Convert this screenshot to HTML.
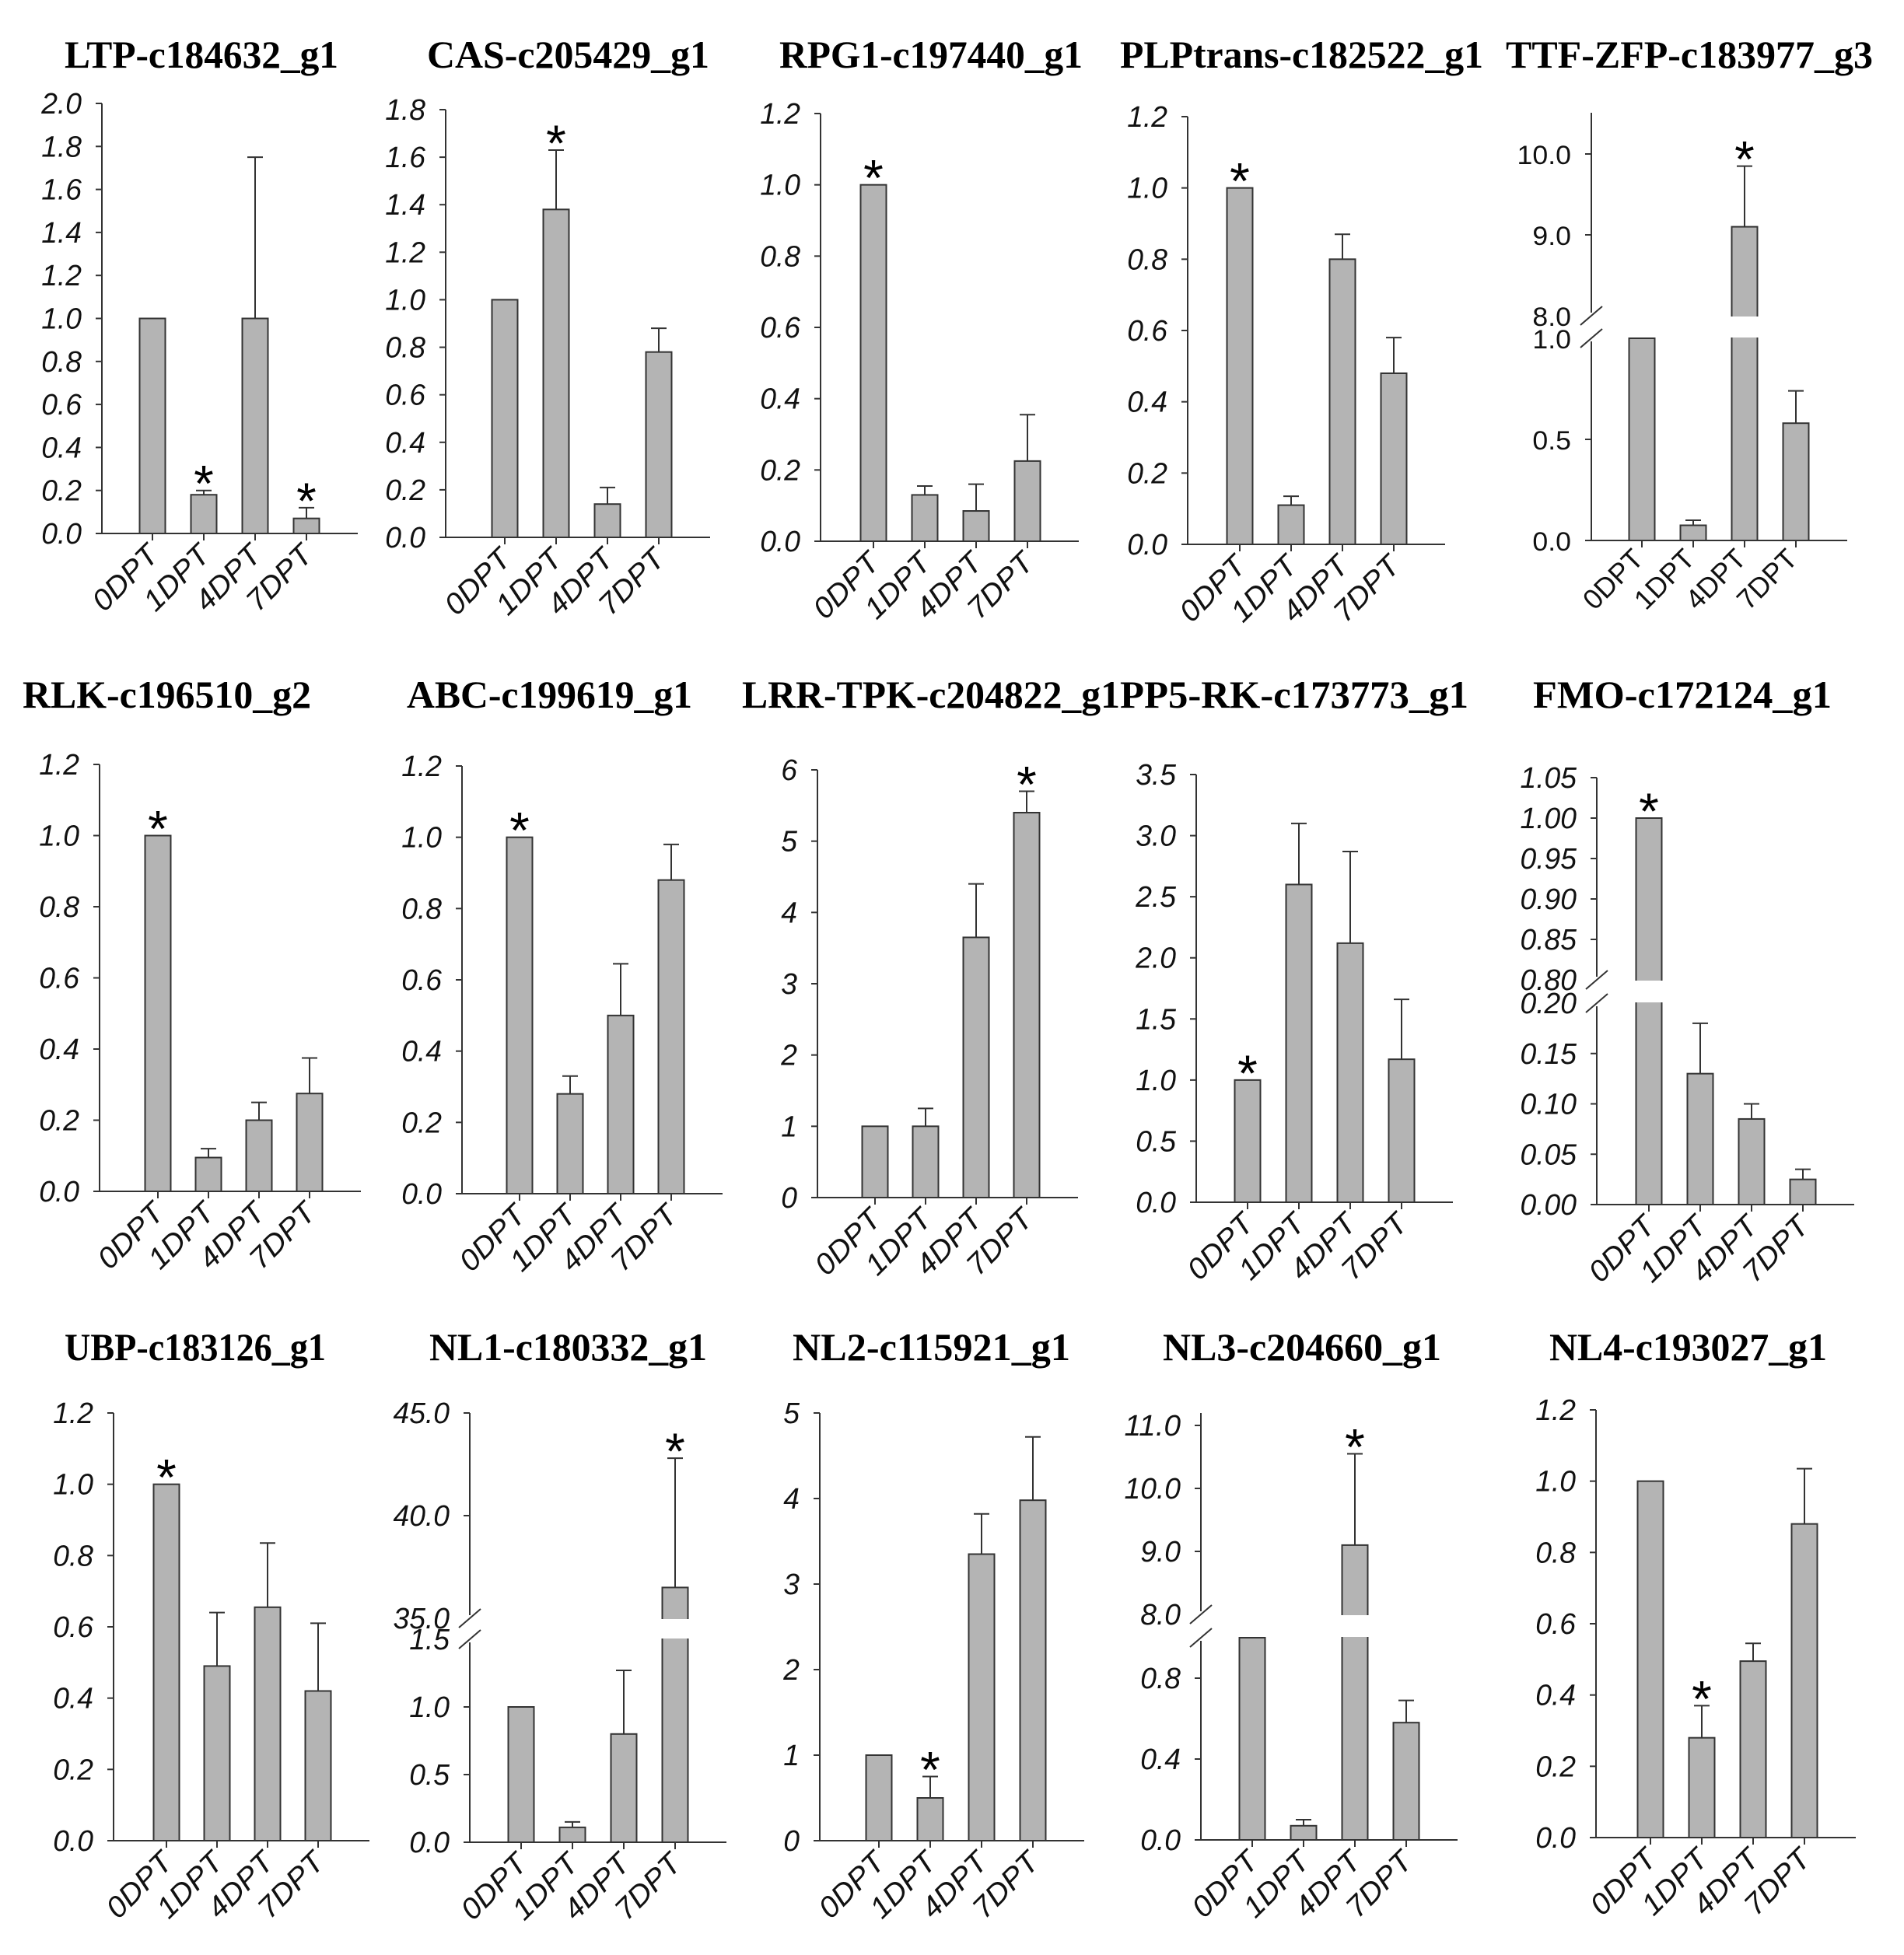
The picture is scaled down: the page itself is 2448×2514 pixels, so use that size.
<!DOCTYPE html>
<html><head><meta charset="utf-8"><style>
html,body{margin:0;padding:0;background:#fff;}
svg{display:block;}
</style></head><body>
<svg id="fig" xmlns="http://www.w3.org/2000/svg" width="2448" height="2514" viewBox="0 0 2448 2514"></svg>
<script>
// ---- data ----
const categories = ["0DPT","1DPT","4DPT","7DPT"];
const titles = ["LTP-c184632_g1","CAS-c205429_g1","RPG1-c197440_g1","PLPtrans-c182522_g1","TTF-ZFP-c183977_g3",
 "RLK-c196510_g2","ABC-c199619_g1","LRR-TPK-c204822_g1","PP5-RK-c173773_g1","FMO-c172124_g1",
 "UBP-c183126_g1","NL1-c180332_g1","NL2-c115921_g1","NL3-c204660_g1","NL4-c193027_g1"];
const values = [
 [1.0,0.18,1.0,0.07],[1.0,1.38,0.14,0.78],[1.0,0.13,0.085,0.225],[1.0,0.11,0.8,0.48],[1.0,0.075,9.1,0.58],
 [1.0,0.095,0.2,0.275],[1.0,0.28,0.5,0.88],[1.0,1.0,3.65,5.4],[1.0,2.6,2.12,1.17],[1.0,0.13,0.085,0.025],
 [1.0,0.49,0.655,0.42],[1.0,0.11,0.8,36.5],[1.0,0.5,3.35,3.98],[1.0,0.07,9.1,0.58],[1.0,0.28,0.495,0.88]];
const errTops = [
 [null,0.20,1.75,0.12],[null,1.63,0.21,0.88],[null,0.155,0.16,0.355],[null,0.135,0.87,0.58],[null,0.1,9.85,0.74],
 [null,0.12,0.25,0.375],[null,0.33,0.645,0.98],[null,1.25,4.4,5.7],[null,3.1,2.87,1.66],[null,0.18,0.1,0.035],
 [null,0.64,0.835,0.61],[null,0.15,1.27,42.8],[null,0.75,3.82,4.72],[null,0.1,10.55,0.69],[null,0.37,0.545,1.035]];
const stars = [[1,3],[1],[0],[0],[2],[0],[0],[3],[0],[0],[0],[3],[1],[2],[1]];
const tickLabels = [
 ["0.0","0.2","0.4","0.6","0.8","1.0","1.2","1.4","1.6","1.8","2.0"],
 ["0.0","0.2","0.4","0.6","0.8","1.0","1.2","1.4","1.6","1.8"],
 ["0.0","0.2","0.4","0.6","0.8","1.0","1.2"],
 ["0.0","0.2","0.4","0.6","0.8","1.0","1.2"],
 ["0.0","0.5","1.0","8.0","9.0","10.0"],
 ["0.0","0.2","0.4","0.6","0.8","1.0","1.2"],
 ["0.0","0.2","0.4","0.6","0.8","1.0","1.2"],
 ["0","1","2","3","4","5","6"],
 ["0.0","0.5","1.0","1.5","2.0","2.5","3.0","3.5"],
 ["0.00","0.05","0.10","0.15","0.20","0.80","0.85","0.90","0.95","1.00","1.05"],
 ["0.0","0.2","0.4","0.6","0.8","1.0","1.2"],
 ["0.0","0.5","1.0","1.5","35.0","40.0","45.0"],
 ["0","1","2","3","4","5"],
 ["0.0","0.4","0.8","8.0","9.0","10.0","11.0"],
 ["0.0","0.2","0.4","0.6","0.8","1.0","1.2"]];
// ---- layout (pixel geometry, not data) ----
const layout = [
 {tx:[83,435],tb:87,ax:131,top:133,s:[[0,2.0,686,133]],c0:196,sp:66},
 {tx:[549,912],tb:87,ax:573,top:141,s:[[0,1.8,691,141]],c0:649,sp:66},
 {tx:[1002,1392],tb:87,ax:1055,top:146,s:[[0,1.2,696,146]],c0:1123,sp:66},
 {tx:[1440,1907],tb:87,ax:1527,top:150,s:[[0,1.2,700,150]],c0:1594,sp:66},
 {tx:[1936,2408],tb:87,ax:2046,top:145,s:[[0,1.0,695,435],[8,10,406,198]],c0:2111,sp:66,wide:true},
 {tx:[29,400],tb:910,ax:128,top:983,s:[[0,1.2,1532,983]],c0:203,sp:65},
 {tx:[523,890],tb:910,ax:594,top:985,s:[[0,1.2,1535,985]],c0:668,sp:65},
 {tx:[954,1440],tb:910,ax:1051,top:990,s:[[0,6,1540,990]],c0:1125,sp:65},
 {tx:[1440,1888],tb:910,ax:1538,top:996,s:[[0,3.5,1546,996]],c0:1604,sp:66},
 {tx:[1971,2355],tb:910,ax:2053,top:1000,s:[[0,0.2,1549,1290],[0.8,1.05,1260,1000]],c0:2120,sp:66},
 {tx:[83,419],tb:1749,ax:146,top:1817,s:[[0,1.2,2367,1817]],c0:214,sp:65},
 {tx:[552,909],tb:1749,ax:604,top:1817,s:[[0,1.5,2369,2108],[35,45,2081,1817]],c0:670,sp:66},
 {tx:[1019,1376],tb:1749,ax:1054,top:1817,s:[[0,5,2367,1817]],c0:1130,sp:66},
 {tx:[1495,1853],tb:1749,ax:1544,top:1817,s:[[0,1.0,2366,2106],[8,11,2076,1833]],c0:1610,sp:66},
 {tx:[1992,2349],tb:1749,ax:2052,top:1813,s:[[0,1.2,2363,1813]],c0:2122,sp:66}];

const NS="http://www.w3.org/2000/svg";
const svg=document.getElementById('fig');
function mk(tag,attrs,parent){const e=document.createElementNS(NS,tag);for(const k in attrs)e.setAttribute(k,attrs[k]);(parent||svg).appendChild(e);return e;}
const EM={'0':.556,'1':.556,'2':.556,'3':.556,'4':.556,'5':.556,'6':.556,'7':.556,'8':.556,'9':.556,'.':.278,'D':.722,'P':.667,'T':.611};
function em(s){let w=0;for(const c of s)w+=EM[c]||.556;return w;}
function yScale(L,v){
  const s=L.s;
  let seg=s[0];
  if(s.length>1&&v>=s[1][0])seg=s[1];
  return seg[2]+(v-seg[0])/(seg[1]-seg[0])*(seg[3]-seg[2]);
}
function tickVal(t){return parseFloat(t);}

layout.forEach((L,i)=>{
  const g=mk('g',{});
  
  
  const wide=!!L.wide;
  const t=mk('text',{x:L.tx[0],y:L.tb,'font-family':'"Liberation Serif",serif','font-weight':'bold','font-size':50,textLength:L.tx[1]-L.tx[0],lengthAdjust:'spacingAndGlyphs',fill:'#000'},g);
  t.textContent=titles[i];
  
  
  const y0=L.s[0][2];
  const xEnd=L.c0+3*L.sp+66;
  const col='#333';
  if(L.s.length>1){
    const yl=L.s[0][3], yu=L.s[1][2];
    const a1=mk('line',{x1:L.ax,y1:y0,x2:L.ax,y2:yl+4,stroke:col,'stroke-width':2},g);
    
    
    const a2=mk('line',{x1:L.ax,y1:yu-4,x2:L.ax,y2:L.top,stroke:col,'stroke-width':2},g);
    
    
    [yl,yu].forEach(yy=>{
      const sl=mk('line',{x1:L.ax-14,y1:yy+12,x2:L.ax+14,y2:yy-12,stroke:col,'stroke-width':2},g);
      
      
    });
  } else {
    const a=mk('line',{x1:L.ax,y1:y0,x2:L.ax,y2:L.top,stroke:col,'stroke-width':2},g);
    
    
  }
  const xa=mk('line',{x1:L.ax-8,y1:y0,x2:xEnd,y2:y0,stroke:col,'stroke-width':2},g);
  
  
  tickLabels[i].forEach(lbl=>{
    const yy=yScale(L,tickVal(lbl));
    const isBreakEdge=L.s.length>1&&(Math.abs(yy-L.s[0][3])<1||Math.abs(yy-L.s[1][2])<1);
    if(!isBreakEdge){
      const tk=mk('line',{x1:L.ax-8,y1:yy,x2:L.ax,y2:yy,stroke:col,'stroke-width':2},g);
      
      
    }
    const fs=wide?34:38, ratio=wide?1.05:0.98;
    const tl=mk('text',{x:L.ax-26,y:yy+13,'text-anchor':'end','font-family':'"Liberation Sans",sans-serif','font-style':wide?'normal':'italic','font-size':fs,textLength:(em(lbl)*fs*ratio).toFixed(1),lengthAdjust:'spacingAndGlyphs',fill:'#111'},g);
    tl.textContent=lbl;
    
    
  });
  categories.forEach((c,k)=>{
    const cx=L.c0+k*L.sp;
    const v=values[i][k];
    const yv=yScale(L,v);
    const b=mk('rect',{x:cx-16.5,y:yv,width:33,height:y0-yv,fill:'#b4b4b4',stroke:'#333','stroke-width':2},g);
    
    
    if(L.s.length>1&&v>=L.s[1][0]){
      const gap=mk('rect',{x:cx-19,y:L.s[1][2]+1,width:38,height:L.s[0][3]-L.s[1][2]-2,fill:'#fff'},g);
      
      
    }
    const e=errTops[i][k];
    if(e!==null){
      const ye=yScale(L,e);
      const el=mk('line',{x1:cx,y1:yv,x2:cx,y2:ye,stroke:col,'stroke-width':2},g);
      
      
      const ec=mk('line',{x1:cx-10,y1:ye,x2:cx+10,y2:ye,stroke:col,'stroke-width':2},g);
      
      
    }
    const xt=mk('line',{x1:cx,y1:y0,x2:cx,y2:y0+9,stroke:col,'stroke-width':2},g);
    
    
    const fs=wide?36:38, ratio=wide?1.0:1.05;
    const lx=cx+(wide?4:10), ly=y0+(wide?26:30);
    const xl=mk('text',{x:lx,y:ly,'text-anchor':'end','font-family':'"Liberation Sans",sans-serif','font-style':wide?'normal':'italic','font-size':fs,textLength:(em(c)*fs*ratio).toFixed(1),lengthAdjust:'spacingAndGlyphs',transform:'rotate(-45 '+lx+' '+ly+')',fill:'#111'},g);
    xl.textContent=c;
    
    
    if(stars[i].indexOf(k)>=0){
      const top=e!==null?yScale(L,e):yv;
      const st=mk('text',{x:cx,y:top+14,'text-anchor':'middle','font-family':'"Liberation Sans",sans-serif','font-size':66,fill:'#000'},g);
      st.textContent='*';
      
      
    }
  });
});
</script>
</body></html>
